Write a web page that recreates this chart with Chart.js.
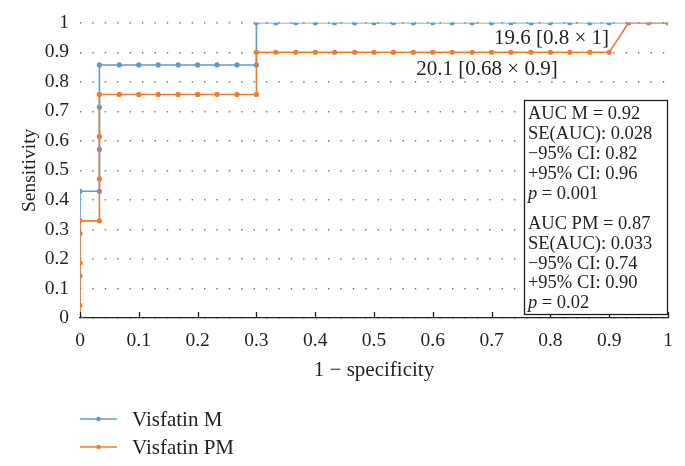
<!DOCTYPE html>
<html>
<head>
<meta charset="utf-8">
<script src="https://cdn.jsdelivr.net/npm/chart.js@4.4.0/dist/chart.umd.min.js"></script>
<style>
    body { margin: 0; background: #fff; }
    #wrap { position: relative; width: 685px; height: 466px; }
    .legend { position: absolute; left: 80px; top: 405px; font-family: "Liberation Serif", "DejaVu Serif", serif; font-size: 21px; color: #231f20; }
    .legend div { display: flex; align-items: center; height: 28px; }
    .legend svg { margin-right: 15px; }
</style>
</head>
<body>
<div id="wrap">
    <canvas id="roc" width="685" height="466"></canvas>
    <div class="legend" id="legend"></div>
</div>
<script>
const seriesNames = ["Visfatin M", "Visfatin PM"];
const seriesColors = ["#5b9bd5", "#ed7d31"];

// 1 - specificity / sensitivity
const fprM = [0, 0, 0, 0, 0.033, 0.033, 0.033, 0.033, 0.067, 0.1, 0.133, 0.167, 0.2, 0.233, 0.267, 0.3,
    0.3, 0.333, 0.367, 0.4, 0.433, 0.467, 0.5, 0.533, 0.567, 0.6, 0.633, 0.667, 0.7, 0.733, 0.767, 0.8,
    0.833, 0.867, 0.9, 0.933, 0.967, 1];
const tprM = [0, 0.143, 0.286, 0.429, 0.429, 0.571, 0.714, 0.857, 0.857, 0.857, 0.857, 0.857, 0.857, 0.857, 0.857, 0.857,
    1, 1, 1, 1, 1, 1, 1, 1, 1, 1, 1, 1, 1, 1, 1, 1,
    1, 1, 1, 1, 1, 1];
const fprPM = [0, 0, 0, 0, 0.033, 0.033, 0.033, 0.033, 0.067, 0.1, 0.133, 0.167, 0.2, 0.233, 0.267, 0.3,
    0.3, 0.333, 0.367, 0.4, 0.433, 0.467, 0.5, 0.533, 0.567, 0.6, 0.633, 0.667, 0.7, 0.733, 0.767, 0.8,
    0.833, 0.867, 0.9, 0.933, 0.967, 1];
const tprPM = [0, 0.043, 0.186, 0.329, 0.329, 0.471, 0.614, 0.757, 0.757, 0.757, 0.757, 0.757, 0.757, 0.757, 0.757, 0.757,
    0.9, 0.9, 0.9, 0.9, 0.9, 0.9, 0.9, 0.9, 0.9, 0.9, 0.9, 0.9, 0.9, 0.9, 0.9, 0.9,
    0.9, 0.9, 0.9, 1, 1, 1];

const xTickLabels = ["0", "0.1", "0.2", "0.3", "0.4", "0.5", "0.6", "0.7", "0.8", "0.9", "1"];
const yTickLabels = ["0", "0.1", "0.2", "0.3", "0.4", "0.5", "0.6", "0.7", "0.8", "0.9", "1"];

const cutoffTexts = ["19.6 [0.8 \u00d7 1]", "20.1 [0.68 \u00d7 0.9]"];
const statsM = ["AUC M = 0.92", "SE(AUC): 0.028", "\u221295% CI: 0.82", "+95% CI: 0.96"];
const statsPM = ["AUC PM = 0.87", "SE(AUC): 0.033", "\u221295% CI: 0.74", "+95% CI: 0.90"];
const pValues = ["0.001", "0.02"];

const FONT = "'Liberation Serif', serif";
const INK = "#231f20";

function toPoints(xs, ys) {
    return xs.map((x, i) => ({ x: x, y: ys[i] }));
}

// ticks on the x axis point up into the plot, plus the text labels and stats box
const extras = {
    id: "extras",
    afterDraw(chart) {
        const { ctx, chartArea, scales: { x, y } } = chart;
        ctx.save();
        ctx.strokeStyle = INK;
        ctx.lineWidth = 1.3;
        x.ticks.forEach(t => {
            const px = Math.round(x.getPixelForValue(t.value)) + 0.5;
            ctx.beginPath();
            ctx.moveTo(px, chartArea.bottom);
            ctx.lineTo(px, chartArea.bottom - 6);
            ctx.stroke();
        });

        ctx.fillStyle = INK;
        ctx.font = "21px " + FONT;
        ctx.textBaseline = "middle";
        ctx.textAlign = "left";
        ctx.fillText(cutoffTexts[0], x.getPixelForValue(0.704), y.getPixelForValue(0.948));
        ctx.fillText(cutoffTexts[1], x.getPixelForValue(0.572), y.getPixelForValue(0.843));

        // stats box
        const bx = x.getPixelForValue(0.755), by = y.getPixelForValue(0.737);
        const bw = x.getPixelForValue(0.998) - bx, bh = y.getPixelForValue(0.013) - by;
        ctx.fillStyle = "#fff";
        ctx.fillRect(bx, by, bw, bh);
        ctx.strokeRect(Math.round(bx) + 0.5, Math.round(by) + 0.5, Math.round(bw), Math.round(bh));

        ctx.fillStyle = INK;
        ctx.font = "18.5px " + FONT;
        const tx = bx + 4;
        const offsM = [14, 34, 54, 74], offsPM = [124, 144, 164, 183];
        statsM.forEach((s, i) => ctx.fillText(s, tx, by + offsM[i]));
        statsPM.forEach((s, i) => ctx.fillText(s, tx, by + offsPM[i]));
        [94, 203].forEach((off, i) => {
            ctx.font = "italic 18.5px " + FONT;
            ctx.fillText("p", tx, by + off);
            const w = ctx.measureText("p").width;
            ctx.font = "18.5px " + FONT;
            ctx.fillText(" = " + pValues[i], tx + w, by + off);
        });
        ctx.restore();
    }
};

function renderRoc() {
    const ctx = document.getElementById("roc").getContext("2d");
    new Chart(ctx, {
        type: "scatter",
        data: {
            datasets: [
                {
                    label: seriesNames[0],
                    data: toPoints(fprM, tprM),
                    showLine: true,
                    borderColor: seriesColors[0],
                    backgroundColor: seriesColors[0],
                    borderWidth: 1.6,
                    pointRadius: 2.6,
                    pointBorderWidth: 0,
                    order: 1,
                },
                {
                    label: seriesNames[1],
                    data: toPoints(fprPM, tprPM),
                    showLine: true,
                    borderColor: seriesColors[1],
                    backgroundColor: seriesColors[1],
                    borderWidth: 1.6,
                    pointRadius: 2.6,
                    pointBorderWidth: 0,
                    order: 0,
                },
            ],
        },
        options: {
            responsive: false,
            animation: false,
            events: [],
            layout: { padding: { left: 0, right: 17, top: 20, bottom: 78 } },
            scales: {
                x: {
                    type: "linear",
                    min: 0,
                    max: 1,
                    afterFit: s => { s.height = 70; },
                    ticks: {
                        stepSize: 0.1,
                        padding: 11,
                        color: INK,
                        font: { family: FONT, size: 19.5 },
                        maxRotation: 0,
                        callback: (v, i) => xTickLabels[i],
                    },
                    grid: { display: false, drawTicks: false },
                    border: { display: true, color: INK, width: 1.3 },
                    title: {
                        display: true,
                        text: "1 \u2212 specificity",
                        color: INK,
                        font: { family: FONT, size: 21 },
                        padding: { top: 0, bottom: 5 },
                    },
                },
                y: {
                    min: 0,
                    max: 1,
                    afterFit: s => { s.width = 80; },
                    ticks: {
                        stepSize: 0.1,
                        padding: 11,
                        color: INK,
                        font: { family: FONT, size: 19.5 },
                        callback: (v, i) => yTickLabels[i],
                    },
                    grid: {
                        color: "#777",
                        lineWidth: 1.4,
                        drawTicks: false,
                    },
                    border: { display: false, dash: [1.4, 11] },
                    title: {
                        display: true,
                        text: "Sensitivity",
                        color: INK,
                        font: { family: FONT, size: 19.5 },
                        padding: { top: 18, bottom: 0 },
                    },
                },
            },
            plugins: {
                legend: { display: false },
                tooltip: { enabled: false },
            },
        },
        plugins: [extras],
    });
}

function renderLegend() {
    const box = document.getElementById("legend");
    seriesNames.forEach((name, i) => {
        const row = document.createElement("div");
        row.innerHTML =
            '<svg width="37" height="10"><line x1="0" y1="5" x2="37" y2="5" stroke="' + seriesColors[i] +
            '" stroke-width="1.6"/><circle cx="18.5" cy="5" r="2.3" fill="' + seriesColors[i] + '"/></svg>' +
            "<span>" + name + "</span>";
        box.appendChild(row);
    });
}

renderRoc();
renderLegend();
</script>
</body>
</html>
